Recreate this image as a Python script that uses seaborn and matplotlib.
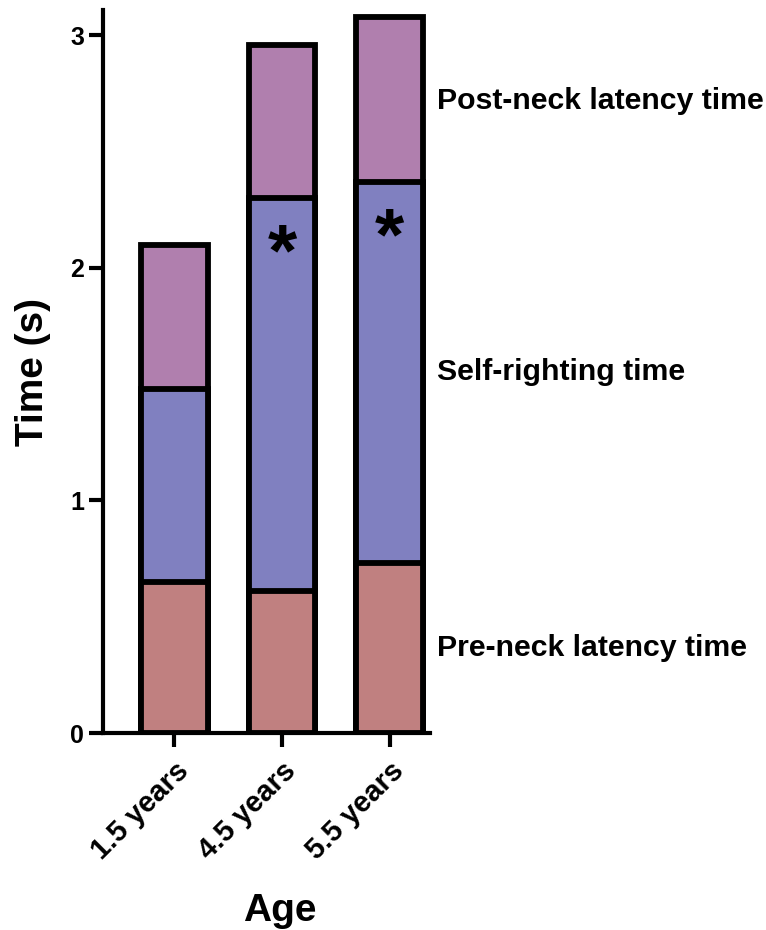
import pandas as pd
import matplotlib
matplotlib.use('Agg')
import matplotlib.pyplot as plt
import seaborn as sns

# values (seconds)
ages = ['1.5 years', '4.5 years', '5.5 years']
pre_neck = [0.65, 0.61, 0.73]
self_righting = [0.83, 1.69, 1.64]
post_neck = [0.62, 0.66, 0.71]
segment_names = ['Pre-neck latency time', 'Self-righting time', 'Post-neck latency time']
segment_label_y = [0.365, 1.551, 2.716]
segment_colors = ['#C08080', '#8080C0', '#B07FAE']
star_ages = ['4.5 years', '5.5 years']

sns.set_theme(style='ticks')
plt.rcParams['font.family'] = ['Liberation Sans', 'DejaVu Sans']
plt.rcParams['font.weight'] = 'bold'
for k in ['text.color', 'axes.labelcolor', 'xtick.color', 'ytick.color', 'axes.edgecolor']:
    plt.rcParams[k] = 'black'

df = pd.DataFrame({'Age': ages, 'pre': pre_neck, 'self': self_righting, 'post': post_neck})
df['c1'] = df['pre']
df['c2'] = df['pre'] + df['self']
df['c3'] = df['c2'] + df['post']

fig = plt.figure(figsize=(7.66, 9.3), dpi=100)
ax = fig.add_axes([0.1345, 0.2118, 0.4265, 0.777])

# stacked bars drawn back to front
for col, color in zip(['c3', 'c2', 'c1'], segment_colors[::-1]):
    sns.barplot(data=df, x='Age', y=col, color=color, width=0.62,
                edgecolor='black', linewidth=4.2, saturation=1, ax=ax)

ax.set_xlim(-0.66, 2.37)
ax.set_ylim(0, 3.107)
ax.set_yticks([0, 1, 2, 3])
ax.set_yticklabels(['0', '1', '2', '3'])

# significance stars in the self-righting segment
for age in star_ages:
    i = ages.index(age)
    ax.text(i, df['c2'][i] - 0.25, '*', ha='center', va='center', fontsize=54, fontweight='bold')

# segment labels on the right
for name, yv in zip(segment_names, segment_label_y):
    ax.text(2.44, yv, name, ha='left', va='center', fontsize=21.8, fontweight='bold', clip_on=False)

sns.despine(ax=ax)
for s in ['left', 'bottom']:
    ax.spines[s].set_linewidth(3)
ax.tick_params(axis='both', width=3, length=10, color='black')
ax.tick_params(axis='y', labelsize=18)
ax.tick_params(axis='x', labelsize=21, pad=7)
plt.setp(ax.get_xticklabels(), rotation=45, ha='right', rotation_mode='anchor', fontweight='bold')
plt.setp(ax.get_yticklabels(), fontweight='bold')
ax.set_xlabel('Age', fontsize=28, fontweight='bold')
ax.set_ylabel('Time (s)', fontsize=28, fontweight='bold', labelpad=14)
ax.xaxis.set_label_coords(0.541, -0.222)

fig.savefig('out.png', dpi=100)
